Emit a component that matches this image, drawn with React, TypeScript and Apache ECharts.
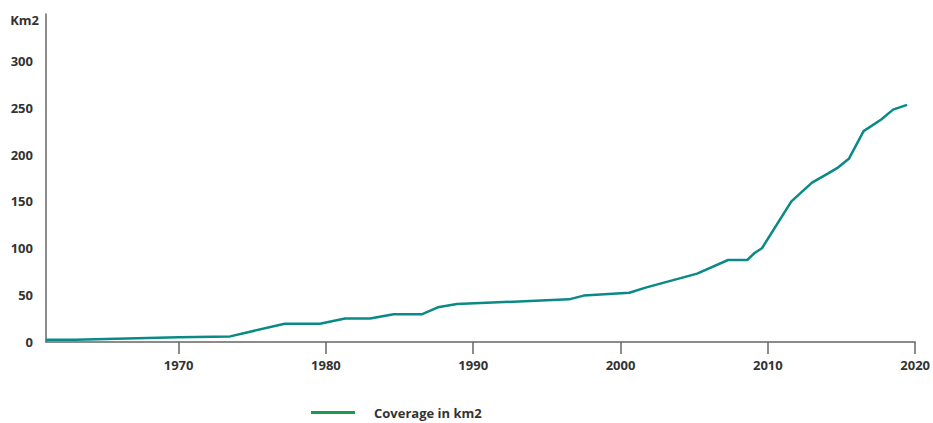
import React, { useEffect, useRef } from "react";
import * as echarts from "echarts";

const years = [1961, 1963, 1970, 1973.5, 1977.2, 1979.6, 1981.3, 1983.0, 1984.6, 1986.5, 1987.6, 1988.9, 1996.5, 1997.5, 2000.6, 2001.7, 2005.2, 2007.3, 2008.6, 2009.1, 2009.6, 2011.6, 2013.0, 2014.1, 2014.7, 2015.5, 2016.5, 2017.7, 2018.5, 2019.45];
const coverage = [2.5, 2.5, 5, 6, 19.5, 19.5, 25, 25, 29.5, 29.5, 37, 40.5, 45.5, 49.5, 52.5, 58, 73, 87.5, 87.5, 95, 100, 150, 170, 180, 185.5, 195.5, 225, 237.5, 248, 253];
const xTicks = [1970, 1980, 1990, 2000, 2010, 2020];
const seriesName = "Coverage in km2";
const unitLabel = "Km2";

export default function App() {
  const ref = useRef<HTMLDivElement>(null);
  useEffect(() => {
    if (!ref.current) return;
    const chart = echarts.init(ref.current, null, { renderer: "svg" });
    const font = "'Open Sans', 'Noto Sans', sans-serif";
    chart.setOption({
      animation: false,
      textStyle: { fontFamily: font },
      grid: { left: 46, right: 17, top: 14, bottom: 81, containLabel: false },
      xAxis: {
        type: "value",
        min: 1961,
        max: 2020,
        axisLine: { show: true, lineStyle: { color: "#666", width: 1.5 } },
        axisTick: { show: true, length: 12, lineStyle: { color: "#666", width: 1.5 }, customValues: xTicks },
        axisLabel: {
          color: "#333",
          fontWeight: "bold",
          fontSize: 13,
          fontFamily: font,
          margin: 16,
          customValues: xTicks,
          formatter: (v: number) => String(v),
        },
        splitLine: { show: false },
      },
      yAxis: {
        type: "value",
        min: 0,
        max: 350,
        interval: 50,
        axisLine: { show: true, lineStyle: { color: "#666", width: 1.5 } },
        axisTick: { show: false },
        axisLabel: {
          color: "#333",
          fontWeight: "bold",
          fontSize: 13,
          fontFamily: font,
          margin: 13,
          formatter: (v: number) => (v >= 350 ? "" : String(v)),
        },
        splitLine: { show: false },
      },
      graphic: [
        {
          type: "text",
          right: 933 - 39,
          top: 13,
          style: { text: unitLabel, fill: "#333", font: `bold 13px ${font}`, textAlign: "right" },
        },
      ],
      legend: {
        show: true,
        left: 306,
        top: 401,
        icon: "rect",
        itemWidth: 44,
        itemHeight: 3,
        data: [{ name: seriesName, itemStyle: { color: "#1a9a4e" } }],
        textStyle: { color: "#333", fontWeight: "bold", fontSize: 13, fontFamily: font, padding: [0, 0, 0, 14] },
      },
      series: [
        {
          name: seriesName,
          type: "line",
          data: years.map((y, i) => [y, coverage[i]]),
          showSymbol: false,
          symbol: "none",
          lineStyle: { color: "#098a86", width: 2.5 },
          itemStyle: { color: "#098a86" },
        },
      ],
    });
    return () => chart.dispose();
  }, []);
  return <div ref={ref} style={{ width: 933, height: 423, position: "absolute", left: 0, top: 0 }} />;
}
